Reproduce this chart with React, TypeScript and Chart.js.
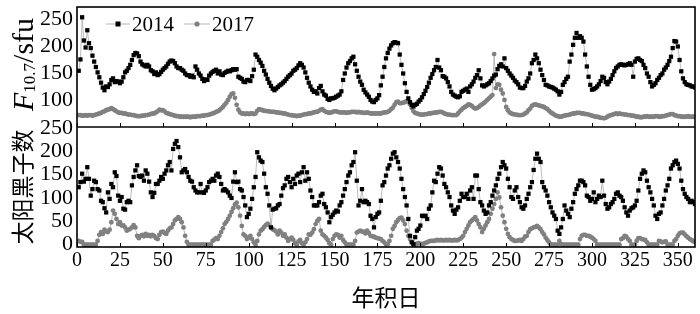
import React, { useEffect, useRef } from 'react';
import { Chart, registerables } from 'chart.js';

Chart.register(...registerables);

// ---- data (day of year 1..360) ----
const days: number[] = Array.from({ length: 360 }, (_, i) => i + 1);

const f107_2014 = [
  155,176,254,211,198,230,206,197,183,172,
  162,152,143,133,124,119,126,125,130,138,
  141,134,136,135,132,135,143,152,155,160,
  166,175,184,188,187,182,172,167,165,163,
  166,163,156,154,149,152,147,149,153,157,
  160,163,168,172,174,173,169,163,160,160,
  157,155,150,147,147,144,146,143,163,157,
  150,146,140,136,139,138,146,150,153,155,
  157,150,154,148,147,151,153,155,154,156,
  158,157,158,144,142,140,135,134,138,138,
  136,145,157,185,181,175,170,164,155,148,
  140,133,127,122,119,122,125,128,130,133,
  136,140,144,147,150,155,157,160,165,169,
  166,161,152,142,133,126,120,116,117,113,
  123,127,117,111,109,103,101,104,104,105,
  107,109,111,117,138,150,161,169,173,178,
  181,167,155,144,135,129,120,115,111,107,
  101,98,97,101,104,110,128,144,162,178,
  188,196,202,206,208,207,206,185,166,150,
  132,116,104,97,92,89,92,94,98,101,
  106,112,118,125,133,142,149,156,162,175,
  161,156,145,144,141,134,126,116,111,109,
  107,106,108,116,118,120,122,116,126,130,
  135,142,147,156,141,128,126,128,130,132,
  136,141,146,148,158,164,167,163,178,160,
  155,150,146,142,137,134,130,124,123,123,
  127,135,141,150,169,175,185,178,169,157,
  147,138,129,128,126,125,124,122,120,117,
  111,116,129,134,140,144,172,185,203,216,
  225,216,219,216,209,185,163,144,129,120,
  121,123,126,130,136,144,142,134,130,135,
  140,147,154,160,163,166,167,166,165,166,
  167,169,166,144,172,177,178,175,173,166,
  160,150,144,134,126,129,132,138,142,147,
  150,157,161,166,173,181,197,210,209,200,
  175,154,141,134,130,129,128,126,126,124,
];

const f107_2017 = [
  73,73,72,72,73,72,73,73,72,73,
  74,75,76,77,79,80,82,83,84,86,
  84,82,80,78,77,77,76,76,75,74,
  74,73,73,72,71,71,71,72,72,73,
  73,74,75,76,76,78,80,83,82,82,
  80,77,76,75,74,73,72,71,71,70,
  70,70,70,70,70,69,70,70,70,71,
  71,71,72,72,73,73,74,75,76,77,
  79,80,82,85,88,92,96,101,107,112,
  113,105,92,83,78,76,76,75,76,75,
  76,76,75,76,81,84,83,82,81,81,
  80,80,79,79,79,78,78,77,77,76,
  76,75,74,73,73,72,72,71,72,72,
  73,74,75,75,76,76,77,78,79,79,
  81,83,84,81,79,78,77,78,79,80,
  80,79,78,78,78,78,77,78,78,79,
  79,79,78,79,78,78,77,77,78,77,
  76,76,76,76,76,76,76,77,78,78,
  79,81,84,87,92,97,98,95,95,96,
  97,99,98,93,86,80,77,76,75,74,
  74,74,75,75,76,76,77,77,78,78,
  79,79,78,76,75,74,74,73,73,73,
  73,76,80,83,86,88,90,93,92,90,
  87,85,86,88,91,93,95,98,101,104,
  107,110,186,123,130,129,120,113,101,88,
  82,78,76,75,74,74,73,73,73,74,
  76,78,82,85,90,92,93,92,91,90,
  89,88,86,84,81,78,76,74,72,71,
  70,70,71,72,73,73,74,75,76,76,
  77,77,77,76,76,75,75,74,73,72,
  71,70,70,69,68,68,67,68,70,72,
  73,74,75,76,75,76,75,75,74,74,
  73,73,72,72,71,70,70,69,69,70,
  70,71,70,70,70,70,71,71,70,70,
  71,71,72,73,74,75,75,73,72,71,
  71,70,70,70,70,71,70,70,70,70,
];

const ssn_2014 = [
  123,134,152,135,141,166,141,105,119,137,
  134,119,116,94,91,78,69,112,98,130,
  123,155,147,105,94,102,77,75,91,94,
  91,127,145,159,170,147,145,148,137,159,
  152,135,112,102,111,130,130,137,145,141,
  152,159,170,177,159,205,216,222,209,187,
  155,159,162,155,145,137,135,123,116,112,
  112,130,112,111,116,123,134,137,141,137,
  148,152,145,130,116,119,116,112,105,100,
  135,155,134,135,119,116,102,84,59,66,
  77,98,123,145,198,187,180,177,152,123,
  109,84,37,75,77,78,84,87,105,121,
  127,141,145,134,123,141,130,148,152,134,
  155,166,137,155,141,116,102,84,84,84,
  91,105,109,87,80,69,48,59,64,69,
  73,71,84,91,105,119,134,148,155,170,
  177,198,137,84,94,119,91,94,91,87,
  62,55,37,59,66,69,94,127,134,148,
  163,170,184,195,198,187,177,163,141,119,
  102,84,55,19,5,1,16,30,34,41,
  62,61,62,55,77,84,112,137,134,152,
  166,163,148,130,123,112,102,84,73,66,
  75,80,94,109,102,102,109,98,116,123,
  98,148,148,119,91,84,73,66,69,84,
  91,105,116,127,141,152,166,177,170,163,
  141,123,102,98,116,123,102,91,80,77,
  84,98,109,123,134,160,184,195,184,177,
  134,123,116,105,91,80,69,62,55,30,
  23,37,55,84,73,66,59,77,91,109,
  119,127,137,137,134,127,105,102,94,98,
  112,91,98,105,102,137,105,87,77,80,
  87,91,98,109,112,105,102,94,80,69,
  62,73,78,80,84,94,116,141,152,159,
  155,137,123,112,98,84,62,55,66,69,
  84,98,116,127,141,163,170,177,180,173,
  163,137,119,109,102,98,91,94,91,87,
];

const ssn_2017 = [
  8,6,6,0,0,0,0,0,0,0,
  0,8,21,27,23,32,28,27,32,48,
  73,66,55,44,48,41,41,37,30,32,
  34,37,42,37,19,14,19,21,18,23,
  19,21,18,21,19,14,12,21,27,28,
  25,23,30,35,37,44,52,55,59,55,
  48,37,19,6,0,0,0,0,0,0,
  0,0,0,0,0,0,0,0,8,11,
  14,12,19,27,35,44,49,55,62,70,
  78,86,90,80,62,40,22,19,12,15,
  19,12,5,0,8,22,30,33,38,42,
  45,42,38,33,31,28,22,30,26,19,
  22,15,8,12,15,10,3,0,7,10,
  3,0,5,12,22,21,26,33,44,51,
  55,30,22,19,15,10,3,0,12,19,
  22,21,15,19,10,5,0,0,0,0,
  0,8,26,28,30,28,28,24,30,25,
  19,18,17,15,14,13,12,8,5,1,
  1,8,19,34,40,48,53,57,58,52,
  44,30,19,12,6,0,0,2,3,2,
  0,2,4,5,7,8,8,8,9,10,
  9,10,9,9,10,9,10,9,9,10,
  9,10,12,15,19,27,34,41,48,52,
  55,59,52,44,37,27,34,41,48,55,
  66,77,87,98,112,101,80,62,48,34,
  23,16,12,10,8,8,9,10,8,12,
  17,19,27,33,35,37,38,40,37,33,
  27,22,15,10,5,0,0,0,0,0,
  8,1,0,0,0,0,0,0,0,0,
  0,0,12,19,21,21,19,19,17,15,
  12,8,0,0,0,0,0,0,0,0,
  0,0,0,0,0,0,12,14,19,17,
  12,8,0,0,0,8,14,14,12,11,
  10,5,0,0,0,0,0,0,8,7,
  5,6,7,0,0,0,0,8,12,19,
  24,26,26,22,18,15,12,10,7,7,
];

const xTicks = [0, 25, 50, 75, 100, 125, 150, 175, 200, 225, 250, 275, 300, 325, 350];
const f107Ticks = [100, 150, 200, 250];
const ssnTicks = [0, 50, 100, 150, 200, 250];
const seriesYears = ['2014', '2017'];
const xTitle = '年积日';
const yTitleSsn = '太阳黑子数';

const BLACK = '#000000';
const GREY = '#808080';
const LINE_GREY = '#b4b4b4';
const SERIF = '"Liberation Serif", "Times New Roman", serif';
const CJK = '"Noto Sans CJK SC", sans-serif';

const toXY = (vals: number[]) => vals.map((v, i) => ({ x: days[i], y: v }));

const decorPlugin = {
  id: 'decor',
  afterDatasetsDraw(chart: any) {
    const { ctx, chartArea: a, scales } = chart;
    const sep = scales.yTop.bottom;
    ctx.save();
    ctx.strokeStyle = '#000';
    ctx.lineWidth = 1.6;
    ctx.strokeRect(a.left, a.top, a.right - a.left, a.bottom - a.top);
    ctx.beginPath();
    ctx.moveTo(a.left, sep);
    ctx.lineTo(a.right, sep);
    ctx.stroke();
    ctx.lineWidth = 1;
    for (const v of xTicks) {
      const x = Math.round(scales.x.getPixelForValue(v)) + 0.5;
      ctx.beginPath();
      ctx.moveTo(x, sep);
      ctx.lineTo(x, sep - 4);
      ctx.moveTo(x, a.bottom);
      ctx.lineTo(x, a.bottom - 4);
      ctx.stroke();
    }
    ctx.restore();
  },
  afterDraw(chart: any) {
    const { ctx } = chart;
    ctx.save();
    ctx.fillStyle = '#000';
    // legend
    const ly = 24;
    ctx.strokeStyle = LINE_GREY;
    ctx.lineWidth = 1;
    ctx.beginPath();
    ctx.moveTo(106, ly);
    ctx.lineTo(130, ly);
    ctx.stroke();
    ctx.fillStyle = BLACK;
    ctx.fillRect(115.5, ly - 2.5, 5, 5);
    ctx.font = `21px ${SERIF}`;
    ctx.textBaseline = 'middle';
    ctx.textAlign = 'left';
    ctx.fillText(seriesYears[0], 132, ly + 1);
    ctx.beginPath();
    ctx.moveTo(184, ly);
    ctx.lineTo(210, ly);
    ctx.stroke();
    ctx.fillStyle = GREY;
    ctx.beginPath();
    ctx.arc(197, ly, 2.6, 0, Math.PI * 2);
    ctx.fill();
    ctx.fillStyle = BLACK;
    ctx.fillText(seriesYears[1], 212, ly + 1);

    // x title
    ctx.font = `23px ${CJK}`;
    ctx.textAlign = 'center';
    ctx.textBaseline = 'middle';
    ctx.fillText(xTitle, 386, 297);

    // y title (sunspots)
    ctx.save();
    ctx.translate(22, 187);
    ctx.rotate(-Math.PI / 2);
    ctx.font = `23px ${CJK}`;
    ctx.textAlign = 'center';
    ctx.textBaseline = 'middle';
    ctx.fillText(yTitleSsn, 0, 0);
    ctx.restore();

    // y title (F10.7/sfu)
    ctx.save();
    ctx.translate(33, 111);
    ctx.rotate(-Math.PI / 2);
    ctx.textAlign = 'left';
    ctx.textBaseline = 'alphabetic';
    ctx.font = `italic 30px ${SERIF}`;
    ctx.fillText('F', 0, 0);
    let w = ctx.measureText('F').width;
    ctx.font = `17px ${SERIF}`;
    ctx.fillText('10.7', w, 2);
    w += ctx.measureText('10.7').width;
    ctx.font = `30px ${SERIF}`;
    ctx.fillText('/sfu', w, 0);
    ctx.restore();

    ctx.restore();
  },
};

export default function App() {
  const ref = useRef<HTMLCanvasElement | null>(null);

  useEffect(() => {
    if (!ref.current) return;
    const tickFontY = { family: SERIF, size: 22 };
    const tickFontX = { family: SERIF, size: 20 };
    const fitY = (s: any) => { s.width = 77; s.paddingTop = 0; s.paddingBottom = 0; };
    const chart = new Chart(ref.current, {
      type: 'line',
      data: {
        datasets: [
          {
            label: '2014 F10.7',
            data: toXY(f107_2014),
            yAxisID: 'yTop',
            borderColor: LINE_GREY,
            borderWidth: 0.9,
            pointStyle: 'rect',
            pointRadius: 3,
            pointBackgroundColor: BLACK,
            pointBorderColor: BLACK,
            pointBorderWidth: 0,
          },
          {
            label: '2017 F10.7',
            data: toXY(f107_2017),
            yAxisID: 'yTop',
            borderColor: LINE_GREY,
            borderWidth: 0.9,
            pointStyle: 'circle',
            pointRadius: 2.4,
            pointBackgroundColor: GREY,
            pointBorderColor: GREY,
            pointBorderWidth: 0,
          },
          {
            label: '2014 SSN',
            data: toXY(ssn_2014),
            yAxisID: 'yBot',
            borderColor: LINE_GREY,
            borderWidth: 0.9,
            pointStyle: 'rect',
            pointRadius: 3,
            pointBackgroundColor: BLACK,
            pointBorderColor: BLACK,
            pointBorderWidth: 0,
          },
          {
            label: '2017 SSN',
            data: toXY(ssn_2017),
            yAxisID: 'yBot',
            borderColor: LINE_GREY,
            borderWidth: 0.9,
            pointStyle: 'circle',
            pointRadius: 2.4,
            pointBackgroundColor: GREY,
            pointBorderColor: GREY,
            pointBorderWidth: 0,
          },
        ],
      },
      options: {
        responsive: false,
        maintainAspectRatio: false,
        animation: false,
        devicePixelRatio: 1,
        layout: { padding: { top: 7, right: 5, left: 0, bottom: 0 } },
        elements: { line: { tension: 0 } },
        plugins: { legend: { display: false }, tooltip: { enabled: false } },
        scales: {
          x: {
            type: 'linear',
            position: 'bottom',
            min: 0,
            max: 360,
            grid: { display: false, drawTicks: false },
            border: { display: false },
            ticks: { font: tickFontX, color: '#000', padding: 2, maxRotation: 0, autoSkip: false },
            afterBuildTicks: (s: any) => { s.ticks = xTicks.map((v) => ({ value: v })); },
            afterFit: (s: any) => { s.height = 67; s.paddingLeft = 0; s.paddingRight = 0; },
          },
          yTop: {
            type: 'linear',
            position: 'left',
            stack: 'panels',
            stackWeight: 1,
            weight: 2,
            min: 51,
            max: 273,
            grid: { display: false, drawTicks: false },
            border: { display: false },
            ticks: { font: tickFontY, color: '#000', padding: 4, autoSkip: false },
            afterBuildTicks: (s: any) => { s.ticks = f107Ticks.map((v) => ({ value: v })); },
            afterFit: fitY,
          },
          yBot: {
            type: 'linear',
            position: 'left',
            stack: 'panels',
            stackWeight: 1,
            weight: 1,
            min: -5,
            max: 252,
            grid: { display: false, drawTicks: false },
            border: { display: false },
            ticks: { font: tickFontY, color: '#000', padding: 4, autoSkip: false },
            afterBuildTicks: (s: any) => { s.ticks = ssnTicks.map((v) => ({ value: v })); },
            afterFit: fitY,
          },
        },
      } as any,
      plugins: [decorPlugin],
    });
    return () => chart.destroy();
  }, []);

  return (
    <div style={{ position: 'fixed', left: 0, top: 0, width: 700, height: 314, background: '#fff' }}>
      <canvas ref={ref} width={700} height={314} style={{ display: 'block' }} />
    </div>
  );
}
